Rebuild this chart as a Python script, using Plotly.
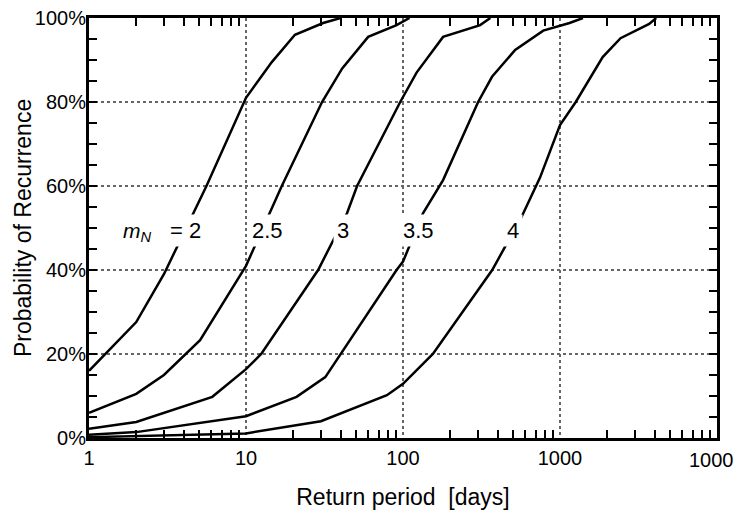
import math
import plotly.graph_objects as go

# Return period [days] and probability of recurrence [%] for each m_N curve
T_m20 = [1, 2, 3, 5.6, 10, 14.6, 20.5, 31, 40]
P_m20 = [16, 27.6, 39, 60, 81, 89.5, 96, 98.8, 100]

T_m25 = [1, 2, 3, 5.1, 10, 14.2, 16.9, 30.5, 41, 60, 91, 110]
P_m25 = [6, 10.5, 15, 23.3, 41, 53.5, 60, 80, 88, 95.5, 98.3, 100]

T_m30 = [1, 2, 6.1, 10, 12.5, 28.8, 44, 51, 96, 122, 180, 310, 360]
P_m30 = [2.2, 3.8, 9.8, 16.4, 20, 40, 53.5, 60, 80, 87, 95.5, 98.3, 100]

T_m35 = [1, 2, 10, 21, 32, 40, 91, 100, 134, 180, 301, 369, 518, 782, 1150, 1400]
P_m35 = [0.8, 1.4, 5.2, 9.8, 14.5, 20, 40, 42, 53.5, 61.4, 80, 86, 92.4, 97, 98.8, 100]

T_m40 = [1, 10, 30, 79, 100, 155, 370, 565, 746, 1000, 1260, 1870, 2430, 3700, 4100]
P_m40 = [0.2, 1.1, 4, 10.2, 12.9, 20, 40, 52.4, 62, 74.5, 80, 90.7, 95.2, 98.6, 100]

curves = [(T_m20, P_m20), (T_m25, P_m25), (T_m30, P_m30), (T_m35, P_m35), (T_m40, P_m40)]

# curve labels (text, return period, probability)
label_text = ["= 2", "2.5", "3", "3.5", "4"]
label_x = [4.1, 13.8, 41.5, 125, 504]
label_y = [49.5, 49.5, 49.5, 49.5, 49.5]
mN_label_x = 2.05
mN_label_y = 49.0

# axis ticks (the last decade label is drawn separately so it stays inside the page)
x_tickvals = [1, 10, 100, 1000, 10000]
x_ticktext = ["1", "10", "100", "1000", ""]
x_last_label = "1000"
x_minor = [m * d for d in (1, 10, 100, 1000) for m in range(2, 10)]
y_tickvals = [0, 20, 40, 60, 80, 100]
y_ticktext = ["0%", "20%", "40%", "60%", "80%", "100%"]

x_title = "Return period \u00a0[days]"
y_title = "Probability of Recurrence"

fig = go.Figure()
for T, P in curves:
    fig.add_trace(go.Scatter(x=T, y=P, mode="lines",
                             line=dict(color="black", width=2.5),
                             showlegend=False, hoverinfo="skip"))

font_main = "Liberation Sans, Arial, sans-serif"
for t, x, y in zip(label_text, label_x, label_y):
    fig.add_annotation(x=math.log10(x), y=y, xref="x", yref="y", text=t, showarrow=False,
                       font=dict(family=font_main, size=22, color="black"),
                       bgcolor="white", borderpad=3)
fig.add_annotation(x=math.log10(mN_label_x), y=mN_label_y, xref="x", yref="y",
                   text="<i>m</i><sub><i>N</i></sub>", showarrow=False,
                   font=dict(family=font_main, size=21, color="black"),
                   bgcolor="white", borderpad=2)

# last x tick label and y-axis title
fig.add_annotation(x=math.log10(x_tickvals[-1]), y=0, xref="x", yref="paper",
                   text=x_last_label, showarrow=False, xanchor="center", yanchor="top",
                   xshift=-6, yshift=-9,
                   font=dict(family=font_main, size=20, color="black"))
fig.add_annotation(x=-0.105, y=0.5, xref="paper", yref="paper", text=y_title,
                   textangle=-90, showarrow=False, xanchor="center", yanchor="middle",
                   font=dict(family=font_main, size=23, color="black"))

common_x = dict(type="log", range=[0, 4], tickvals=x_tickvals,
                ticks="inside", ticklen=0, tickcolor="black",
                showline=True, linecolor="black", linewidth=3,
                minor=dict(tickvals=x_minor, ticks="inside", ticklen=8,
                           tickwidth=2, tickcolor="black", showgrid=False),
                zeroline=False, automargin=False)
common_y = dict(range=[0, 100], tickvals=y_tickvals,
                ticks="inside", ticklen=8, tickwidth=2, tickcolor="black",
                showline=True, linecolor="black", linewidth=3,
                minor=dict(dtick=5, ticks="inside", ticklen=8, tickwidth=2,
                           tickcolor="black", showgrid=False),
                zeroline=False, automargin=False)

fig.update_layout(
    xaxis=dict(**common_x, ticktext=x_ticktext,
               showgrid=True, gridcolor="#666666", griddash="dot", gridwidth=1.5,
               tickfont=dict(family=font_main, size=20, color="black"),
               title=dict(text=x_title, standoff=22,
                          font=dict(family=font_main, size=23, color="black"))),
    xaxis2=dict(**common_x, overlaying="x", side="top", matches="x",
                showgrid=False, showticklabels=False),
    yaxis=dict(**common_y, ticktext=y_ticktext,
               showgrid=True, gridcolor="#666666", griddash="dot", gridwidth=1.5,
               ticklabelstandoff=-4,
               tickfont=dict(family=font_main, size=20, color="black")),
    yaxis2=dict(**common_y, overlaying="y", side="right", matches="y",
                showgrid=False, showticklabels=False),
    width=736, height=510,
    margin=dict(l=89, r=19, t=18, b=72, autoexpand=False),
    paper_bgcolor="white", plot_bgcolor="white")

# invisible trace to activate the mirrored top/right axes
fig.add_trace(go.Scatter(x=[T_m20[0]], y=[P_m20[0]], xaxis="x2", yaxis="y2",
                         mode="markers", marker=dict(opacity=0),
                         showlegend=False, hoverinfo="skip"))

fig.write_html("out.html")
